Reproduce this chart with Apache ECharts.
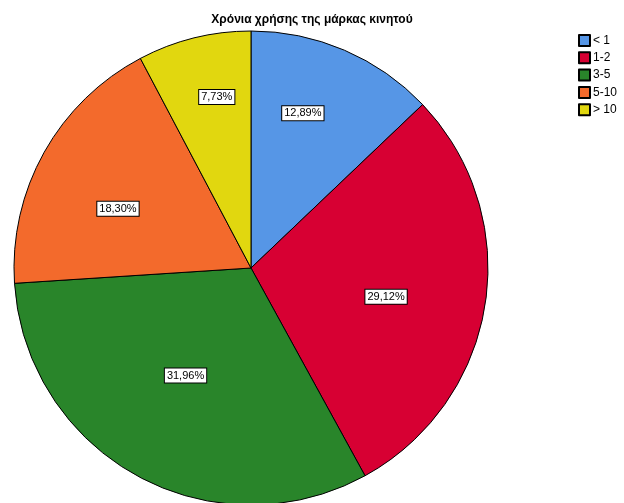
<!DOCTYPE html>
<html>
<head>
<meta charset="utf-8">
<script src="https://cdn.jsdelivr.net/npm/echarts@6/dist/echarts.min.js"></script>
<style>html,body{margin:0;padding:0;background:#fff}#c{width:624px;height:503px}</style>
</head>
<body>
<div id="c"></div>
<script>
var categories = ['< 1', '1-2', '3-5', '5-10', '> 10'];
var values = [12.89, 29.12, 31.96, 18.30, 7.73];
var colors = ['#5696E6', '#D70033', '#29852A', '#F36A2C', '#E1D70F'];
var labelShift = [[4, -43], [15, 10], [-7, 1], [-27, 0], [-5, -53]];
var titleText = 'Χρόνια χρήσης της μάρκας κινητού';

var chart = echarts.init(document.getElementById('c'), null, {renderer: 'canvas'});
chart.setOption({
  animation: false,
  backgroundColor: '#fff',
  title: {
    text: titleText, left: 'center', top: 9,
    textStyle: {fontFamily: 'Liberation Sans, Arial, sans-serif', fontSize: 12, fontWeight: 'bold', color: '#000'}
  },
  legend: {
    orient: 'vertical', left: 578, top: 34, padding: 0, itemWidth: 11, itemHeight: 11, itemGap: 4.3,
    data: categories,
    textStyle: {fontFamily: 'Liberation Sans, Arial, sans-serif', fontSize: 12, lineHeight: 11, color: '#000', padding: [0, 0, 0, -2]},
    icon: 'rect'
  },
  series: [{
    type: 'pie',
    center: [251, 268],
    radius: [0, 237],
    startAngle: 90,
    clockwise: true,
    silent: true,
    data: categories.map(function (c, i) {
      return {name: c, value: values[i], itemStyle: {color: colors[i]}};
    }),
    itemStyle: {borderColor: '#000', borderWidth: 1},
    label: {
      show: true, position: 'inside',
      formatter: function (p) { return p.value.toFixed(2).replace('.', ',') + '%'; },
      fontFamily: 'Liberation Sans, Arial, sans-serif', fontSize: 11, color: '#000',
      backgroundColor: '#fff', borderColor: '#000', borderWidth: 1, padding: [2, 2, 1, 2]
    },
    labelLayout: function (p) {
      return {dx: labelShift[p.dataIndex][0], dy: labelShift[p.dataIndex][1]};
    },
    labelLine: {show: false}
  }]
});
</script>
</body>
</html>
